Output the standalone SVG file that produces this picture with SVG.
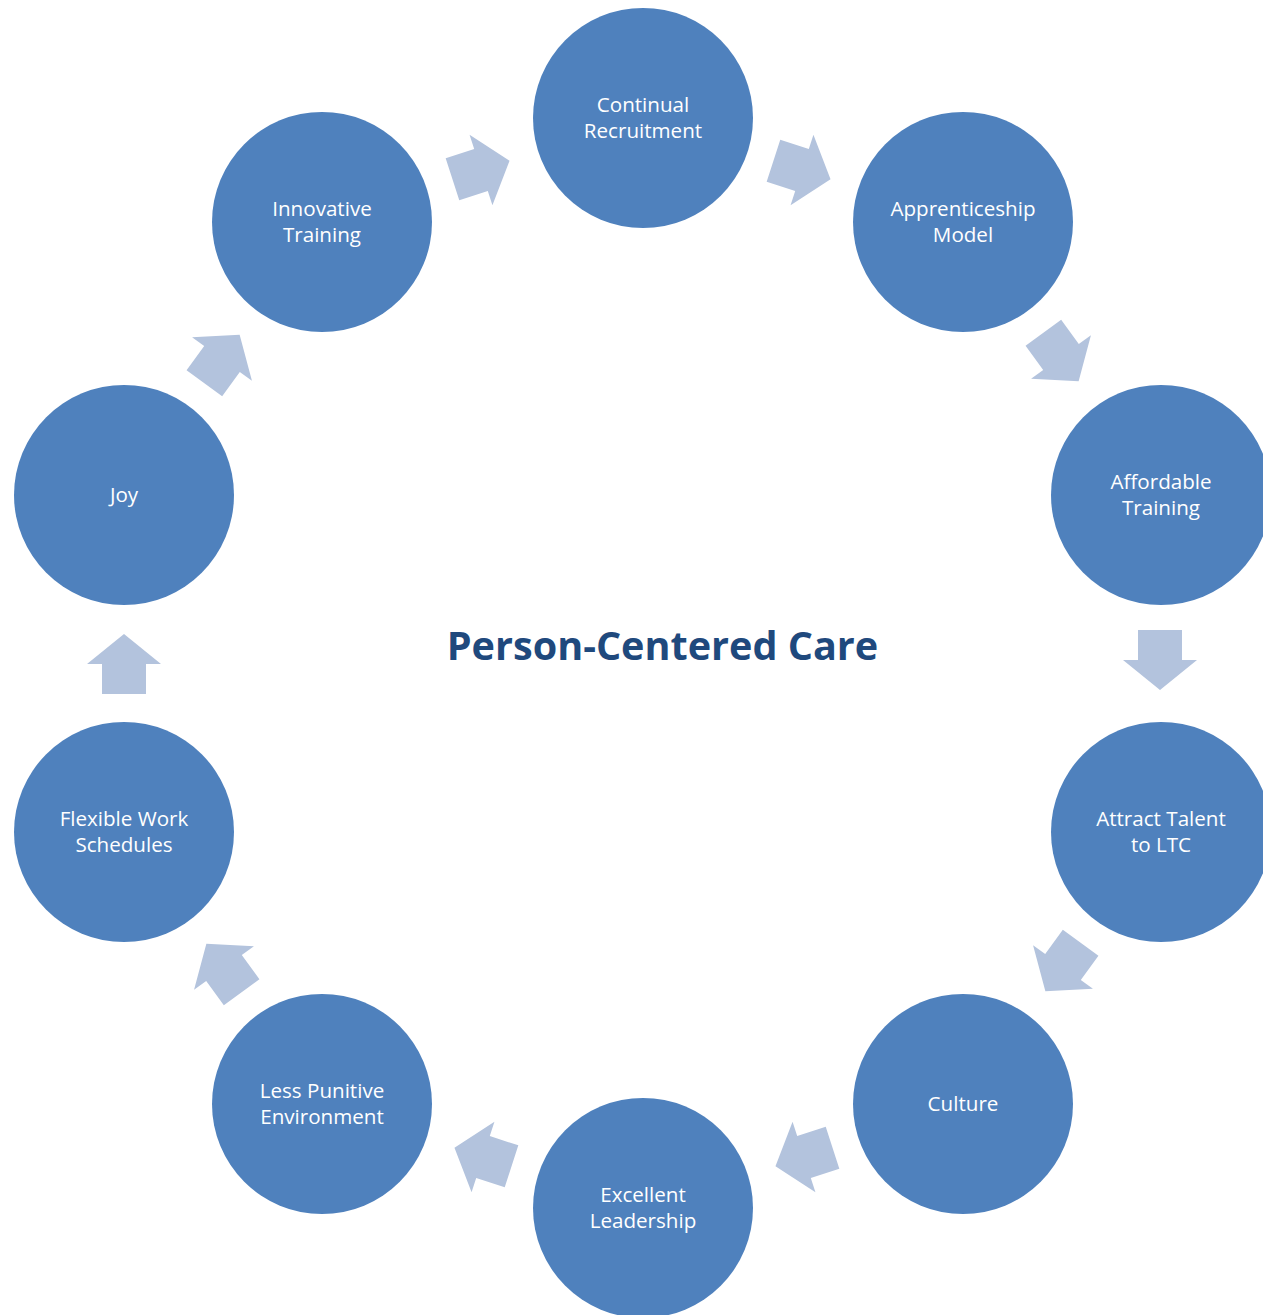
<svg xmlns="http://www.w3.org/2000/svg" xmlns:xlink="http://www.w3.org/1999/xlink" width="1263" height="1315" viewBox="0 0 1263 1315">
<style>
.node{fill:#4f81bd;}
.lbl{fill:#ffffff;font-family:"Open Sans","Liberation Sans",sans-serif;font-size:20.6px;text-anchor:middle;}
.arr{fill:#b3c3dd;}
.title{fill:#1f497d;font-family:"Open Sans","Liberation Sans",sans-serif;font-weight:bold;font-size:39.6px;text-anchor:middle;}
</style>
<defs>
<polygon id="arrow" points="-30,-22 0,-22 0,-37 30,0 0,37 0,22 -30,22"/>
</defs>
<rect width="1263" height="1315" fill="#ffffff"/>
<g id="connectors" class="arr">
<use xlink:href="#arrow" transform="translate(802,170) rotate(18)"/>
<use xlink:href="#arrow" transform="translate(1061,357) rotate(54)"/>
<use xlink:href="#arrow" transform="translate(1160,660) rotate(90)"/>
<use xlink:href="#arrow" transform="translate(1063,967) rotate(126)"/>
<use xlink:href="#arrow" transform="translate(804,1157) rotate(162)"/>
<use xlink:href="#arrow" transform="translate(483,1157) rotate(198)"/>
<use xlink:href="#arrow" transform="translate(224,968) rotate(234)"/>
<use xlink:href="#arrow" transform="translate(124,664) rotate(270)"/>
<use xlink:href="#arrow" transform="translate(222,359) rotate(306)"/>
<use xlink:href="#arrow" transform="translate(481,170) rotate(342)"/>
</g>
<g id="n1"><circle class="node" cx="643" cy="118" r="110"/><text class="lbl" x="643" y="112">Continual</text><text class="lbl" x="643" y="138">Recruitment</text></g>
<g id="n2"><circle class="node" cx="963" cy="222" r="110"/><text class="lbl" x="963" y="216">Apprenticeship</text><text class="lbl" x="963" y="242">Model</text></g>
<g id="n3"><circle class="node" cx="1161" cy="495" r="110"/><text class="lbl" x="1161" y="489">Affordable</text><text class="lbl" x="1161" y="515">Training</text></g>
<g id="n4"><circle class="node" cx="1161" cy="832" r="110"/><text class="lbl" x="1161" y="826">Attract Talent</text><text class="lbl" x="1161" y="852">to LTC</text></g>
<g id="n5"><circle class="node" cx="963" cy="1104" r="110"/><text class="lbl" x="963" y="1111">Culture</text></g>
<g id="n6"><circle class="node" cx="643" cy="1208" r="110"/><text class="lbl" x="643" y="1202">Excellent</text><text class="lbl" x="643" y="1228">Leadership</text></g>
<g id="n7"><circle class="node" cx="322" cy="1104" r="110"/><text class="lbl" x="322" y="1098">Less Punitive</text><text class="lbl" x="322" y="1124">Environment</text></g>
<g id="n8"><circle class="node" cx="124" cy="832" r="110"/><text class="lbl" x="124" y="826">Flexible Work</text><text class="lbl" x="124" y="852">Schedules</text></g>
<g id="n9"><circle class="node" cx="124" cy="495" r="110"/><text class="lbl" x="124" y="502">Joy</text></g>
<g id="n10"><circle class="node" cx="322" cy="222" r="110"/><text class="lbl" x="322" y="216">Innovative</text><text class="lbl" x="322" y="242">Training</text></g>
<g id="title"><text class="title" x="662.5" y="660">Person-Centered Care</text></g>
</svg>
